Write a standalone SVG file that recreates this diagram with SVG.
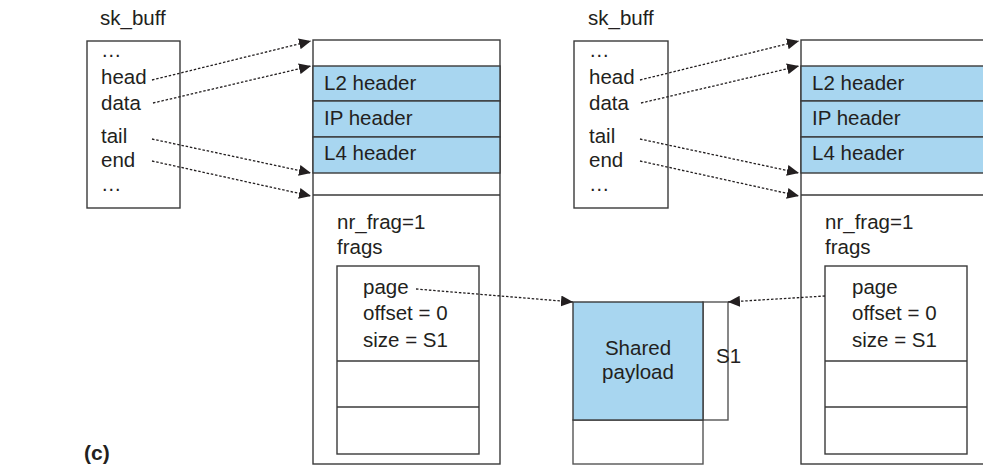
<svg xmlns="http://www.w3.org/2000/svg" width="983" height="465" viewBox="0 0 983 465">
<style>
text{font-family:"Liberation Sans",Arial,sans-serif;font-size:20.5px;fill:#231f20}
.box{fill:#fff;stroke:#3a3a3a;stroke-width:1.4}
.blue{fill:#a8d6f0;stroke:#3a3a3a;stroke-width:1.4}
.ln{stroke:#3a3a3a;stroke-width:1.4;fill:none}
.dot{stroke:#231f20;stroke-width:1.3;stroke-dasharray:2.5 1.8;fill:none;marker-end:url(#ah)}
</style>
<defs>
<marker id="ah" markerUnits="userSpaceOnUse" markerWidth="13" markerHeight="11" refX="12" refY="5.5" orient="auto">
<path d="M0,0 L12,5.5 L0,11 Z" fill="#231f20"/>
</marker>
</defs>
<g id="skbuff-left">
<text x="100" y="25">sk_buff</text>
<rect class="box" x="87" y="41" width="93" height="167"/>
<text x="101" y="57">…</text>
<text x="101" y="84">head</text>
<text x="101" y="110">data</text>
<text x="101" y="143">tail</text>
<text x="101" y="167">end</text>
<text x="101" y="191">…</text>
</g>
<g id="buffer-left">
<rect class="box" x="313" y="40" width="187" height="424"/>
<rect class="blue" x="313" y="66" width="187" height="35"/>
<rect class="blue" x="313" y="101" width="187" height="36"/>
<rect class="blue" x="313" y="137" width="187" height="36"/>
<line class="ln" x1="313" y1="195" x2="500" y2="195"/>
<text x="324" y="90">L2 header</text>
<text x="324" y="125">IP header</text>
<text x="324" y="160">L4 header</text>
<text x="337" y="229">nr_frag=1</text>
<text x="337" y="254">frags</text>
<rect class="box" x="337" y="266" width="142" height="188"/>
<line class="ln" x1="337" y1="361" x2="479" y2="361"/>
<line class="ln" x1="337" y1="407" x2="479" y2="407"/>
<text x="363" y="294">page</text>
<text x="363" y="320">offset = 0</text>
<text x="363" y="347">size = S1</text>
</g>
<g id="skbuff-right">
<text x="588" y="25">sk_buff</text>
<rect class="box" x="574" y="41" width="94" height="167"/>
<text x="589" y="57">…</text>
<text x="589" y="84">head</text>
<text x="589" y="110">data</text>
<text x="589" y="143">tail</text>
<text x="589" y="167">end</text>
<text x="589" y="191">…</text>
</g>
<g id="buffer-right">
<rect class="box" x="801" y="40" width="200" height="424"/>
<rect class="blue" x="801" y="66" width="200" height="35"/>
<rect class="blue" x="801" y="101" width="200" height="36"/>
<rect class="blue" x="801" y="137" width="200" height="36"/>
<line class="ln" x1="801" y1="195" x2="1001" y2="195"/>
<text x="812" y="90">L2 header</text>
<text x="812" y="125">IP header</text>
<text x="812" y="160">L4 header</text>
<text x="825" y="229">nr_frag=1</text>
<text x="825" y="254">frags</text>
<rect class="box" x="825" y="266" width="142" height="188"/>
<line class="ln" x1="825" y1="361" x2="967" y2="361"/>
<line class="ln" x1="825" y1="407" x2="967" y2="407"/>
<text x="852" y="294">page</text>
<text x="852" y="320">offset = 0</text>
<text x="852" y="347">size = S1</text>
</g>
<g id="payload">
<rect class="box" x="573" y="420" width="130" height="44" style="stroke:#555"/>
<rect class="box" x="703" y="302" width="25" height="118" style="stroke:#555"/>
<rect class="blue" x="573" y="302" width="130" height="118"/>
<text x="638" y="355" text-anchor="middle">Shared</text>
<text x="638" y="379" text-anchor="middle">payload</text>
<text x="716" y="363">S1</text>
</g>
<g id="connectors">
<line class="dot" x1="152" y1="80" x2="311" y2="41"/>
<line class="dot" x1="153" y1="103" x2="311" y2="66"/>
<line class="dot" x1="152" y1="139" x2="311" y2="173"/>
<line class="dot" x1="152" y1="161" x2="311" y2="196"/>
<line class="dot" x1="640" y1="80" x2="799" y2="41"/>
<line class="dot" x1="641" y1="103" x2="799" y2="66"/>
<line class="dot" x1="640" y1="139" x2="799" y2="173"/>
<line class="dot" x1="640" y1="161" x2="799" y2="196"/>
<line class="dot" x1="416" y1="289" x2="573" y2="302"/>
<line class="dot" x1="825" y1="296" x2="728" y2="302"/>
</g>
<text x="84" y="460" style="font-weight:bold;font-size:21px">(c)</text>
</svg>
